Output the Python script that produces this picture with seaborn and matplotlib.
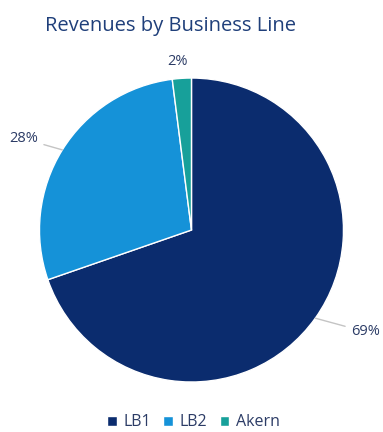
import numpy as np
import matplotlib
matplotlib.use("Agg")
import matplotlib.pyplot as plt
import seaborn as sns

# Revenue share per business line (percent)
business_lines = ["LB1", "LB2", "Akern"]
revenue_share = [69, 28, 2]
line_colors = ["#0b2c6e", "#1592d8", "#17a09a"]

title_text = "Revenues by Business Line"

sns.set_theme(style="white")
plt.rcParams["font.family"] = ["Open Sans", "DejaVu Sans"]

fig = plt.figure(figsize=(3.83, 4.32), dpi=100)
ax = fig.add_axes([0.1031, 0.1157, 0.7937, 0.7037])

wedges, _ = ax.pie(
    revenue_share,
    colors=line_colors,
    startangle=90,
    counterclock=False,
    radius=1.0,
    wedgeprops=dict(edgecolor="white", linewidth=1.0),
)
ax.set_xlim(-1, 1)
ax.set_ylim(-1, 1)
ax.set_aspect("equal")
ax.axis("off")

# Percentage labels outside the pie, with short leader lines
label_color = "#2c3c66"
label_offsets = {
    0: dict(text=(1.05, -0.67), ha="left", line=True),
    1: dict(text=(-1.01, 0.60), ha="right", line=True),
    2: dict(text=(-0.09, 1.11), ha="center", line=False),
}
for i, (w, val) in enumerate(zip(wedges, revenue_share)):
    mid = np.deg2rad((w.theta1 + w.theta2) / 2)
    edge = (np.cos(mid), np.sin(mid))
    cfg = label_offsets[i]
    ax.annotate(
        f"{val}%",
        xy=edge,
        xytext=cfg["text"],
        ha=cfg["ha"],
        va="center",
        fontsize=10.5,
        color=label_color,
        annotation_clip=False,
        arrowprops=dict(arrowstyle="-", color="#c4c4c4", lw=1.0,
                        shrinkA=2, shrinkB=0) if cfg["line"] else None,
    )

fig.text(0.118, 0.940, title_text, fontsize=14.5, color="#1f3f7a",
         ha="left", va="center")

fig.legend(
    wedges,
    business_lines,
    loc="center",
    bbox_to_anchor=(0.505, 0.022),
    ncol=3,
    frameon=False,
    fontsize=11.5,
    handlelength=0.6,
    handleheight=0.6,
    handletextpad=0.4,
    columnspacing=0.8,
    borderpad=0.1,
    labelcolor="#2c3c66",
)

fig.savefig("out.png", dpi=100, facecolor="white")
